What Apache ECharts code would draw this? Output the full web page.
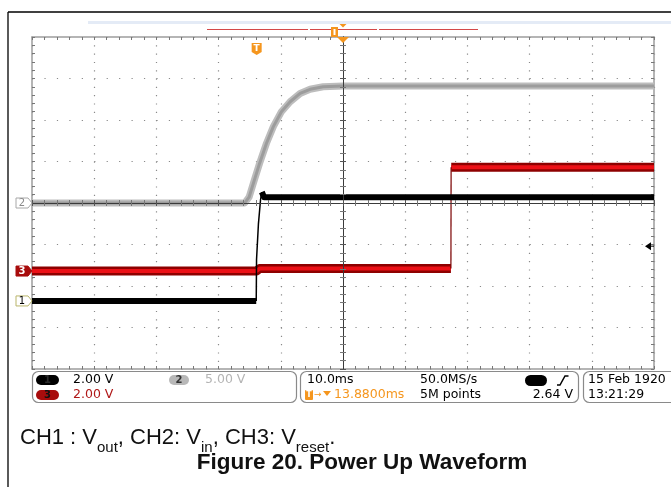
<!DOCTYPE html>
<html><head><meta charset="utf-8">
<script src="https://cdn.jsdelivr.net/npm/echarts@6/dist/echarts.min.js"></script>
<style>html,body{margin:0;padding:0;background:#fff;}#c{width:671px;height:487px;}</style>
</head><body><div id="c"></div>
<script>
// ================= DATA =================
// scope settings
const timePerDivMs = 10;              // 10.0 ms/div
const screenHalfDivX = 5;
const screenHalfDivY = 4;
const triggerTimeMs = -13.88;         // trigger, relative to screen centre
const triggerLevelV = 2.64;           // CH1 trigger level
const channelVoltsPerDiv = [2, 5, 2]; // CH1, CH2, CH3
const channelGroundDiv = [-2.36, 0, -1.64]; // ground marker, divisions from centre
const channelLabels = ['1', '2', '3'];

// CH1: Vout  [time ms, volts]
const ch1Plateaus = [
  [[-50, 0], [-13.95, 0]],
  [[-13.05, 5.25], [-12.7, 5.0], [50, 5.0]]
];
const ch1Edges = [
  [[-13.95, 0], [-13.9, 2.0], [-13.6, 3.7], [-13.25, 4.9], [-13.05, 5.25]]
];
// CH2: Vin
const ch2Trace = [[-50, 0], [-15.8, 0], [-15.1, 0.7], [-14.4, 2.4], [-13.4, 4.8], [-12.3, 7.2],
  [-11.2, 9.2], [-9.9, 11.0], [-8.5, 12.2], [-6.9, 13.2], [-5.3, 13.7], [-3.2, 14.0], [0, 14.1], [50, 14.1]];
// CH3: Vreset
const ch3Plateaus = [
  [[-50, 0], [-13.9, 0], [-13.4, 0.12], [17.35, 0.12]],
  [[17.4, 5.0], [50, 5.0]]
];
const ch3Edges = [
  [[17.35, 0.12], [17.38, 5.0]]
];

// status bar texts
const statusCh1 = '2.00 V', statusCh2 = '5.00 V', statusCh3 = '2.00 V';
const statusTimebase = '10.0ms', statusRate = '50.0MS/s', statusDelay = '13.8800ms';
const statusPoints = '5M points', statusTrigLevel = '2.64 V';
const statusDate = '15 Feb 1920', statusTime = '13:21:29';
const captionParts = [['CH1 : V', false], ['out', true], [', CH2: V', false], ['in', true], [', CH3: V', false], ['reset', true], ['.', false]];
const figureTitle = 'Figure 20. Power Up Waveform';

// ================= CHART =================
const chart = echarts.init(document.getElementById('c'), null, {renderer: 'canvas'});
const xMin = -screenHalfDivX * timePerDivMs, xMax = screenHalfDivX * timePerDivMs;
const borderCol = '#9d9d9d', tickCol = '#777', dotCol = '#8a8a8a';
const ORANGE = '#f5961e';

function xAx(pos, extra) {
  return Object.assign({
    type: 'value', min: xMin, max: xMax, interval: timePerDivMs, position: pos,
    axisLine: {onZero: false, lineStyle: {color: borderCol, width: 1.5}},
    axisTick: {show: true, inside: true, length: 3, lineStyle: {color: tickCol, width: 1}},
    minorTick: {show: true, splitNumber: 5, length: 3, lineStyle: {color: tickCol, width: 1}},
    axisLabel: {show: false}, splitLine: {show: false}
  }, extra || {});
}
function yAx(pos, extra) {
  return Object.assign({
    type: 'value', min: -screenHalfDivY, max: screenHalfDivY, interval: 1, position: pos,
    axisLine: {onZero: false, lineStyle: {color: borderCol, width: 1.5}},
    axisTick: {show: true, inside: true, length: 3, lineStyle: {color: tickCol, width: 1}},
    minorTick: {show: true, splitNumber: 5, length: 3, lineStyle: {color: tickCol, width: 1}},
    axisLabel: {show: false}, splitLine: {show: false}
  }, extra || {});
}
const centreLine = {onZero: true, onZeroAxisIndex: 0, lineStyle: {color: '#3a3a3a', width: 1}};

const xAxes = [
  xAx('bottom', {splitLine: {show: true, lineStyle: {color: dotCol, width: 1.2, type: [1.2, 7.1]}}}),
  xAx('top'),
  xAx('bottom', {axisLine: centreLine, z: 5, axisTick: {show: true, inside: true, length: 3, lineStyle: {color: '#555'}}}),
  xAx('bottom', {axisLine: centreLine, z: 5, axisTick: {show: true, inside: false, length: 3, lineStyle: {color: '#555'}}})
];
const yAxes = [
  yAx('left', {splitLine: {show: true, lineStyle: {color: dotCol, width: 1.2, type: [1.2, 11.24]}}}),
  yAx('right'),
  yAx('left', {axisLine: centreLine, z: 5, axisTick: {show: true, inside: true, length: 3, lineStyle: {color: '#555'}}}),
  yAx('left', {axisLine: centreLine, z: 5, axisTick: {show: true, inside: false, length: 3, lineStyle: {color: '#555'}}})
];
const CH_AXIS0 = yAxes.length;
channelVoltsPerDiv.forEach((vpd, i) => {
  const g = channelGroundDiv[i];
  yAxes.push({type: 'value', show: false, min: (-screenHalfDivY - g) * vpd, max: (screenHalfDivY - g) * vpd});
});

const series = [];
function addLine(data, chIdx, color, width, z) {
  series.push({type: 'line', xAxisIndex: 0, yAxisIndex: CH_AXIS0 + chIdx, data: data,
    showSymbol: false, symbol: 'none', silent: true, animation: false, z: z,
    lineStyle: {color: color, width: width, cap: 'butt', join: 'round'}});
}
// CH2 gray
addLine(ch2Trace, 1, '#bdbdbd', 7, 2);
addLine(ch2Trace, 1, '#9c9c9c', 3, 2);
// CH3 red
ch3Plateaus.forEach(s => { addLine(s, 2, '#8e0000', 9, 3); addLine(s, 2, '#ec1016', 4, 3); });
ch3Edges.forEach(s => addLine(s, 2, '#7a0000', 1.2, 3));
// CH1 black
ch1Plateaus.forEach(s => addLine(s, 0, '#000000', 6, 4));
ch1Edges.forEach(s => addLine(s, 0, '#000000', 1.5, 4));

chart.setOption({
  animation: false,
  grid: {left: 32, top: 37, width: 622, height: 332, containLabel: false},
  xAxis: xAxes, yAxis: yAxes, series: series
});

// ================= DECORATION (graphic) =================
const ctx = document.createElement('canvas').getContext('2d');
function tw(t, font) { ctx.font = font; return ctx.measureText(t).width; }
const G = [];
function txt(t, x, y, opt) {
  G.push({type: 'text', z: 100, style: Object.assign({text: t, x: x, y: y, fill: '#000',
    font: '12.5px "DejaVu Sans"', align: 'left', verticalAlign: 'middle'}, opt || {})});
}
function rect(x, y, w, h, style, r) {
  G.push({type: 'rect', z: 100, shape: {x: x, y: y, width: w, height: h, r: r || 0}, style: style});
}
function poly(pts, style) { G.push({type: 'polygon', z: 100, shape: {points: pts}, style: style}); }
function line(x1, y1, x2, y2, style) { G.push({type: 'line', z: 100, shape: {x1, y1, x2, y2}, style: style}); }

// outer frame
line(8, 12, 671, 12, {stroke: '#000', lineWidth: 1.3});
line(8, 12, 8, 487, {stroke: '#000', lineWidth: 1.3});
// record-view bar
rect(88, 21, 583, 3, {fill: '#e4ebf6'});
line(207, 29.5, 308, 29.5, {stroke: '#d44848', lineWidth: 1});
line(310, 29.5, 377, 29.5, {stroke: '#d44848', lineWidth: 1});
line(379, 29.5, 478, 29.5, {stroke: '#d44848', lineWidth: 1});
rect(331, 27, 7, 10, {fill: ORANGE});
rect(333.5, 29, 2, 6, {fill: '#fff'});

// expansion point (screen centre) & trigger position
const cx = chart.convertToPixel({xAxisIndex: 0}, 0);
poly([[cx - 3.5, 24], [cx + 3.5, 24], [cx, 27.5]], {fill: ORANGE});
poly([[cx - 6, 37], [cx + 6, 37], [cx, 43]], {fill: ORANGE});
const tx = chart.convertToPixel({xAxisIndex: 0}, triggerTimeMs);
poly([[tx - 5, 43], [tx + 5, 43], [tx + 5, 52], [tx, 55], [tx - 5, 52]], {fill: ORANGE});
txt('T', tx, 48.5, {fill: '#fff', font: 'bold 9px "DejaVu Sans"', align: 'center'});

// trigger level arrow (CH1)
const ty = chart.convertToPixel({yAxisIndex: CH_AXIS0}, triggerLevelV);
poly([[645, ty], [651, ty - 4], [651, ty + 4]], {fill: '#000'});
line(651, ty, 654, ty, {stroke: '#000', lineWidth: 1});

// channel ground markers
const markerStyles = [
  {fill: '#fff', stroke: '#b9b56a', text: '#000'},
  {fill: '#fff', stroke: '#a8a8a8', text: '#8a8a8a'},
  {fill: '#a80c0c', stroke: '#a80c0c', text: '#fff'}
];
channelLabels.forEach((lab, i) => {
  const gy = chart.convertToPixel({yAxisIndex: CH_AXIS0 + i}, 0);
  const s = markerStyles[i];
  poly([[16, gy - 5], [28, gy - 5], [32, gy], [28, gy + 5], [16, gy + 5]], {fill: s.fill, stroke: s.stroke, lineWidth: 1});
  txt(lab, 22, gy + 0.5, {fill: s.text, font: (i === 2 ? 'bold ' : '') + '10px "DejaVu Sans"', align: 'center'});
});

// status bar
const boxStyle = {fill: '#fff', stroke: '#8a8a8a', lineWidth: 1.2};
rect(32.5, 371.5, 264, 31, boxStyle, 6);
rect(300.5, 371.5, 278, 31, boxStyle, 6);
rect(583.5, 371.5, 110, 31, boxStyle, 6);
const R1 = 380, R2 = 395;
rect(36, 375, 23, 10, {fill: '#000'}, 5);
txt('1', 47.5, R1, {fill: '#2a2a2a', font: 'bold 10px "DejaVu Sans"', align: 'center'});
txt(statusCh1, 73, R1);
rect(169, 375, 20, 10, {fill: '#b8b8b8'}, 5);
txt('2', 179, R1, {fill: '#333', font: 'bold 10px "DejaVu Sans"', align: 'center'});
txt(statusCh2, 205, R1, {fill: '#b4b4b4'});
rect(36, 390, 23, 10, {fill: '#a80c0c'}, 5);
txt('3', 47.5, R2, {fill: '#111', font: 'bold 10px "DejaVu Sans"', align: 'center'});
txt(statusCh3, 73, R2, {fill: '#b01818'});

txt(statusTimebase, 307, R1);
txt(statusRate, 420, R1);
rect(525, 375, 22, 11, {fill: '#000'}, 5.5);
G.push({type: 'polyline', z: 100, shape: {points: [[557, 385], [560, 385], [565, 376], [568.5, 376]]}, style: {stroke: '#000', lineWidth: 1.5, fill: null}});
rect(305, 390, 8, 10, {fill: ORANGE}, 1);
txt('T', 309, R2, {fill: '#fff', font: 'bold 8px "DejaVu Sans"', align: 'center'});
txt('\u2192', 314, R2, {fill: ORANGE, font: '9px "DejaVu Sans"'});
poly([[323, 391], [331, 391], [327, 396]], {fill: ORANGE});
txt(statusDelay, 334, R2, {fill: ORANGE});
txt(statusPoints, 420, R2);
txt(statusTrigLevel, 573, R2, {align: 'right'});
txt(statusDate, 588, R1);
txt(statusTime, 588, R2);

// caption
const mainFont = '22px "Liberation Sans"', subFont = '15px "Liberation Sans"';
let px = 20;
captionParts.forEach(([t, sub]) => {
  const f = sub ? subFont : mainFont;
  txt(t, px, sub ? 447.5 : 438, {font: f, fill: '#111'});
  px += tw(t, f);
});
txt(figureTitle, 362, 463, {font: 'bold 22.5px "Liberation Sans"', fill: '#111', align: 'center'});

chart.setOption({graphic: G});
</script></body></html>
